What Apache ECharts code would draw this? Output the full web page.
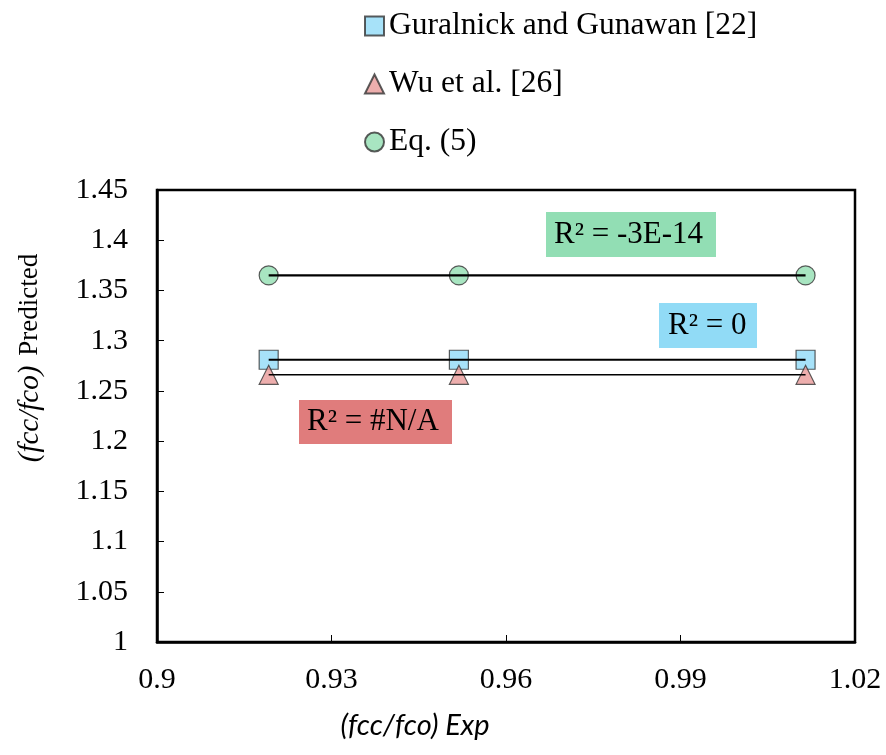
<!DOCTYPE html>
<html><head><meta charset="utf-8">
<script src="https://cdn.jsdelivr.net/npm/echarts@6/dist/echarts.min.js"></script>
<style>html,body{margin:0;padding:0;background:#fff}#c{width:886px;height:755px}</style>
</head><body><div id="c"></div>
<script>
const seriesNames = ['Guralnick and Gunawan [22]', 'Wu et al. [26]', 'Eq. (5)'];
const xExp = [0.9192, 0.9519, 1.0115];
const yGuralnick = [1.281, 1.281, 1.281];
const yWu = [1.266, 1.266, 1.266];
const yEq5 = [1.365, 1.365, 1.365];
const r2Labels = ['R² = 0', 'R² = #N/A', 'R² = -3E-14'];
const xTicks = ['0.9', '0.93', '0.96', '0.99', '1.02'];
const yTicks = ['1', '1.05', '1.1', '1.15', '1.2', '1.25', '1.3', '1.35', '1.4', '1.45'];

const colors = ['#91DBF7', '#E89A98', '#92DEB2'];
const symbols = ['rect', 'triangle', 'circle'];
const ys = [yGuralnick, yWu, yEq5];
const serif = '"Liberation Serif", "Times New Roman", serif';

const chart = echarts.init(document.getElementById('c'), null, {renderer: 'canvas'});
const series = [];
ys.forEach((yv, i) => {
  series.push({
    name: seriesNames[i], type: 'scatter', symbol: symbols[i], symbolSize: 19,
    itemStyle: {color: colors[i], borderColor: '#333', borderWidth: 1.2},
    data: xExp.map((x, k) => [x, yv[k]]), z: 3
  });
  series.push({
    type: 'line', symbol: 'none', silent: true,
    lineStyle: {color: '#000', width: i === 1 ? 1.5 : 2.2},
    data: [[xExp[0], yv[0]], [xExp[xExp.length - 1], yv[yv.length - 1]]], z: 4
  });
});

function r2Box(text, left, top, w, h, color, padL) {
  return {type: 'text', x: left, y: top, z: 10, style: {
    text: text, fontFamily: serif, fontSize: 31, fill: '#000', backgroundColor: color,
    width: w - padL, height: h, lineHeight: h, align: 'left', padding: [0, 0, 0, padL]}};
}

const option = {
  animation: false,
  grid: {left: 157, top: 190, right: 31, bottom: 113, show: true, borderColor: '#000', borderWidth: 2.5, backgroundColor: 'transparent'},
  legend: {
    orient: 'vertical', left: 359, top: 5, itemGap: 26, itemWidth: 19, itemHeight: 19,
    data: seriesNames,
    textStyle: {fontFamily: serif, fontSize: 31.5, lineHeight: 32, color: '#000'}
  },
  xAxis: {
    type: 'value', min: 0.9, max: 1.02, interval: 0.03,
    axisLine: {show: true, lineStyle: {color: '#000', width: 2.5}},
    axisTick: {show: true, inside: true, length: 7, lineStyle: {color: '#000', width: 1}},
    splitLine: {show: false},
    axisLabel: {margin: 23, fontFamily: serif, fontSize: 30, color: '#000',
      formatter: v => xTicks[Math.round((v - 0.9) / 0.03)] || ''}
  },
  yAxis: {
    type: 'value', min: 1, max: 1.45, interval: 0.05,
    axisLine: {show: true, lineStyle: {color: '#000', width: 2.5}},
    axisTick: {show: true, inside: true, length: 7, lineStyle: {color: '#000', width: 1}},
    splitLine: {show: false},
    axisLabel: {margin: 29, fontFamily: serif, fontSize: 30, color: '#000',
      formatter: v => yTicks[Math.round((v - 1) / 0.05)] || ''}
  },
  graphic: [
    {type: 'text', x: 30, y: 358, rotation: Math.PI / 2, style: {
      text: '{i|(fcc/fco)}{s| }{n|Predicted}', align: 'center', verticalAlign: 'middle',
      rich: {i: {fontFamily: serif, fontStyle: 'italic', fontSize: 29, fill: '#000'},
             s: {fontFamily: serif, fontSize: 27, width: 10},
             n: {fontFamily: serif, fontSize: 27, fill: '#000'}}}},
    {type: 'text', x: 415, y: 726, style: {
      text: '(fcc/fco) Exp', align: 'center', verticalAlign: 'middle',
      fontFamily: 'Lato, "Open Sans", sans-serif', fontStyle: 'italic', fontSize: 29, fill: '#000'}},
    r2Box(r2Labels[2], 546, 212, 170, 45, '#92DEB4', 8),
    r2Box(r2Labels[0], 659, 303, 98, 45, '#91DBF6', 9),
    r2Box(r2Labels[1], 299, 400, 153, 44, '#E07C7C', 8)
  ],
  series: series
};
chart.setOption(option);
</script></body></html>
